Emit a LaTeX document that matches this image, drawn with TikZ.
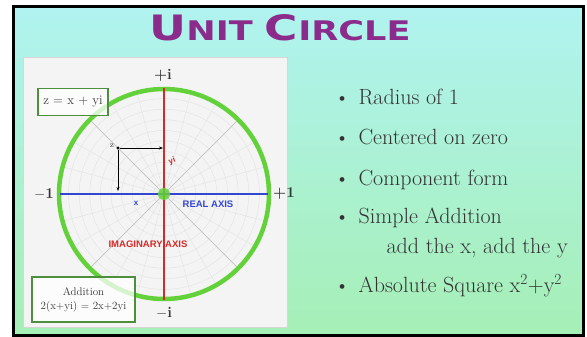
\documentclass[tikz,border=0pt]{standalone}
\usepackage{fontspec}
\usepackage{graphicx}
\newfontfamily\titlefont{DejaVu Sans}
\newfontfamily\axisfont{Liberation Sans}
\usetikzlibrary{arrows.meta}
\definecolor{bgtop}{HTML}{B0F3F0}
\definecolor{bgbot}{HTML}{A6EFB6}
\definecolor{panelbg}{HTML}{F4F4F4}
\definecolor{panelline}{HTML}{D6D6D6}
\definecolor{gridc}{HTML}{E4E4E4}
\definecolor{diagc}{HTML}{BDBDBD}
\definecolor{circc}{HTML}{62D13A}
\definecolor{imagc}{HTML}{D42A2A}
\definecolor{realc}{HTML}{3446D0}
\definecolor{boxc}{HTML}{4E8F3E}
\definecolor{titlec}{HTML}{8B2C8C}
\definecolor{textc}{HTML}{333333}
\tikzset{
  gridline/.style={draw=gridc, line width=0.5pt},
  diagline/.style={draw=diagc, line width=0.6pt},
  infobox/.style={draw=boxc, line width=1.4pt, fill=white, fill opacity=0.75, text opacity=1, text=textc, inner sep=2pt},
  bullettext/.style={anchor=base west, text=textc, font=\fontsize{22}{24}\selectfont},
  bulletdot/.style={anchor=base west, text=textc, font=\fontsize{21}{24}\selectfont},
  pmlabel/.style={text=textc, font=\bfseries\fontsize{15}{16}\selectfont},
  axislabel/.style={font=\axisfont\bfseries\fontsize{9.5}{10}\selectfont},
  comp/.style={-{Stealth[length=4pt,width=3pt]}, line width=0.6pt, black},
}
\begin{document}
\begin{tikzpicture}[x=1pt,y=-1pt]
\useasboundingbox (0,0) rectangle (587,337);
\fill[white] (0,0) rectangle (587,337);
\shade[top color=bgtop, bottom color=bgbot] (13,7) rectangle (583,335);
\draw[line width=3pt] (13,7) rectangle (583,335);
% title
\node[anchor=base, text=titlec] (title) at (280,41)
  {\scalebox{1.3}[1]{\titlefont\bfseries\fontsize{35}{36}\selectfont U\fontsize{27}{28}\selectfont NIT \fontsize{35}{36}\selectfont C\fontsize{27}{28}\selectfont IRCLE}};
% panel
\draw[draw=panelline, fill=panelbg, line width=0.8pt] (23,57) rectangle (287,327);
% polar grid
\begin{scope}[shift={(164,194)}]
  \foreach \k in {1,...,9} \draw[gridline] (0,0) circle [radius=\k*10.6pt];
  \foreach \a in {0,15,...,345} \draw[gridline] (0,0) -- (\a:104pt);
  \foreach \a in {45,135,225,315} \draw[diagline] (0,0) -- (\a:104pt);
  \draw[circc, line width=4.5pt] (0,0) circle [radius=105pt];
\end{scope}
% axes
\coordinate (itop) at (164,88);
\coordinate (ibot) at (164,300);
\coordinate (rl) at (60,194);
\coordinate (rr) at (268,194);
\draw[realc, line width=1.6pt] (rl) -- (rr);
\draw[imagc, line width=1.6pt] (itop) -- (ibot);
\node[circle, fill=circc, fill opacity=0.85, minimum size=12pt, inner sep=0pt] (origin) at (164,194) {};
% axis end labels
\node[pmlabel] (pi) at (163,75) {+i};
\node[pmlabel] (mi) at (164,313) {$-$i};
\node[pmlabel] (m1) at (44,194) {$-$1};
\node[pmlabel] (p1) at (284,194) {+1};
% point z and components
\node[circle, fill=black, inner sep=1.2pt] (z) at (118,148) {};
\node[anchor=east, text=textc, font=\fontsize{8}{9}\selectfont, inner sep=1pt] (zlab) at (115,146) {z};
\coordinate (zy) at (163,148);
\coordinate (zx) at (118,191);
\draw[comp] (z) -- (zy);
\draw[comp] (z) -- (zx);
\node[imagc, font=\axisfont\bfseries\fontsize{8}{9}\selectfont, rotate=20] (yi) at (172,161) {yi};
\node[realc, font=\axisfont\bfseries\fontsize{8}{9}\selectfont] (xl) at (136,203) {x};
\node[realc, axislabel] (real) at (208,204) {REAL AXIS};
\node[imagc, axislabel] (imag) at (148,244) {IMAGINARY AXIS};
% boxes
\node[infobox, minimum width=70pt, minimum height=27pt, font=\fontsize{13}{14}\selectfont] (zbox) at (73,102) {z = x + yi};
\node[infobox, minimum width=103pt, minimum height=45pt, align=center, font=\fontsize{11}{14}\selectfont] (abox) at (83.5,299.5) {Addition\\2(x+yi) = 2x+2yi};
% bullets
\node[bulletdot] (d1) at (331,105) {\textbullet};
\node[bullettext] (b1) at (355,105) {Radius of 1};
\node[bulletdot] (d2) at (331,145) {\textbullet};
\node[bullettext] (b2) at (355,145) {Centered on zero};
\node[bulletdot] (d3) at (331,185) {\textbullet};
\node[bullettext] (b3) at (355,185) {Component form};
\node[bulletdot] (d4) at (331,223) {\textbullet};
\node[bullettext] (b4) at (355,223) {Simple Addition};
\node[bullettext] (b4b) at (383,253) {add the x, add the y};
\node[bulletdot] (d5) at (331,292) {\textbullet};
\node[bullettext] (b5) at (355,292) {Absolute Square x\textsuperscript{2}+y\textsuperscript{2}};
\end{tikzpicture}
\end{document}
